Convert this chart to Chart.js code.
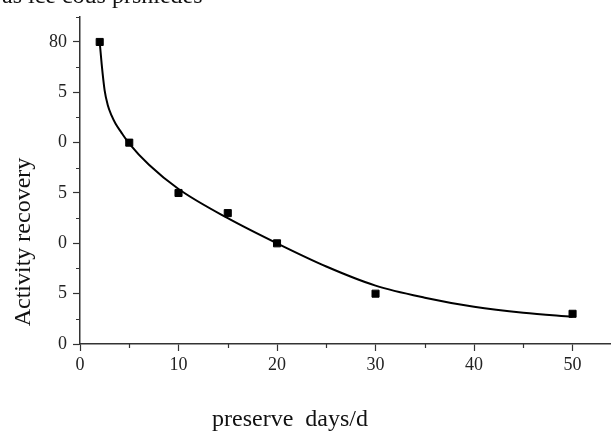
<!DOCTYPE html>
<html>
<head>
<meta charset="utf-8">
<script src="https://cdn.jsdelivr.net/npm/chart.js@4"></script>
<style>
  html, body { margin: 0; padding: 0; background: #fff; }
  #wrap { width: 616px; height: 431px; }
</style>
</head>
<body>
<div id="wrap"><canvas id="recoveryChart" width="616" height="431"></canvas></div>
<script>
// measured points
const preserveDays = [2, 5, 10, 15, 20, 30, 50];
const activity = [30, 20, 15, 13, 10, 5, 3];

// fitted curve
const fitDays = [2, 2.2, 2.5, 2.8, 3.2, 3.6, 4.2, 5, 7, 10, 15, 20, 25, 30, 35, 40, 45, 50];
const fitActivity = [30, 27.8, 25.2, 23.8, 22.7, 21.9, 21.0, 19.9, 17.8, 15.4, 12.5, 10.0, 7.7, 5.8, 4.6, 3.7, 3.1, 2.7];

// axes
const xTicks = [0, 10, 20, 30, 40, 50];
const xMinor = [5, 15, 25, 35, 45];
const yTicks = [0, 5, 10, 15, 20, 25, 30];
const yTickLabels = ['0', '5', '0', '5', '0', '5', '80'];
const yMinor = [2.5, 7.5, 12.5, 17.5, 22.5, 27.5, 32.5];

const serif = '"Liberation Serif", "Times New Roman", serif';

// minor ticks + axis titles placed like the original
const extras = {
    id: 'extras',
    afterDraw(chart) {
        const ctx = chart.ctx;
        const sx = chart.scales.x, sy = chart.scales.y;
        ctx.save();
        ctx.strokeStyle = '#333';
        ctx.lineWidth = 1.2;
        ctx.beginPath();
        xMinor.forEach(v => {
            const px = Math.round(sx.getPixelForValue(v)) + 0.5;
            ctx.moveTo(px, sx.top);
            ctx.lineTo(px, sx.top + 4);
        });
        yMinor.forEach(v => {
            const py = Math.round(sy.getPixelForValue(v)) + 0.5;
            ctx.moveTo(sy.right - 4, py);
            ctx.lineTo(sy.right, py);
        });
        ctx.stroke();

        ctx.fillStyle = '#111';
        ctx.font = '24px ' + serif;
        ctx.textAlign = 'center';
        ctx.textBaseline = 'middle';
        ctx.fillText('preserve  days/d', 290, 420);

        ctx.translate(24, 242);
        ctx.rotate(-Math.PI / 2);
        ctx.fillText('Activity recovery', 0, 0);
        ctx.restore();

        // cut-off caption line at the very top
        ctx.save();
        ctx.fillStyle = '#111';
        ctx.font = '24px ' + serif;
        ctx.textAlign = 'left';
        ctx.textBaseline = 'alphabetic';
        ctx.fillText('as ice cous prsniedes', 2, 3);
        ctx.restore();
    }
};

const axisGrid = {
    drawOnChartArea: false,
    drawTicks: true,
    tickLength: 7,
    tickColor: '#333',
    tickWidth: 1.2
};

new Chart(document.getElementById('recoveryChart').getContext('2d'), {
    type: 'scatter',
    data: {
        datasets: [{
            label: 'fit',
            data: fitDays.map((d, i) => ({ x: d, y: fitActivity[i] })),
            showLine: true,
            borderColor: '#000',
            borderWidth: 2,
            pointRadius: 0,
            cubicInterpolationMode: 'monotone',
            fill: false
        }, {
            label: 'Activity recovery',
            data: preserveDays.map((d, i) => ({ x: d, y: activity[i] })),
            pointStyle: 'rect',
            pointRadius: 5,
            backgroundColor: '#000',
            borderColor: '#000',
            borderWidth: 1
        }]
    },
    options: {
        responsive: false,
        animation: false,
        layout: { padding: { top: 15, right: 0, left: 0, bottom: 0 } },
        plugins: { legend: { display: false }, tooltip: { enabled: false } },
        scales: {
            x: {
                type: 'linear',
                min: 0,
                max: 53.8,
                afterFit(s) { s.height = 87; },
                afterBuildTicks(s) { s.ticks = xTicks.map(v => ({ value: v })); },
                grid: axisGrid,
                border: { color: '#333', width: 1.5 },
                ticks: {
                    padding: 3,
                    color: '#222',
                    font: { family: serif, size: 18 },
                    maxRotation: 0
                }
            },
            y: {
                type: 'linear',
                min: 0,
                max: 32.5,
                afterFit(s) { s.width = 80; },
                afterBuildTicks(s) { s.ticks = yTicks.map(v => ({ value: v })); },
                grid: axisGrid,
                border: { color: '#333', width: 1.5 },
                ticks: {
                    padding: 6,
                    color: '#222',
                    font: { family: serif, size: 18 },
                    callback: (v, i) => yTickLabels[i]
                }
            }
        }
    },
    plugins: [extras]
});
</script>
</body>
</html>
